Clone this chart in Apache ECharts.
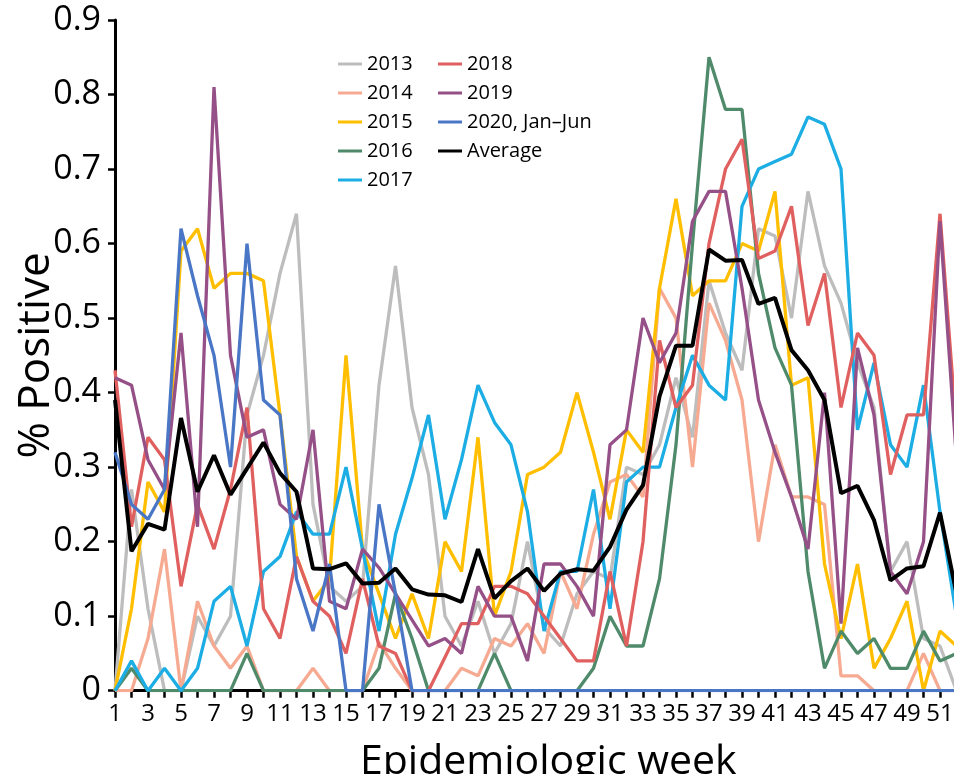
<!DOCTYPE html>
<html>
<head>
<meta charset="utf-8">
<script src="https://cdn.jsdelivr.net/npm/echarts@6/dist/echarts.min.js"></script>
<style>
html,body{margin:0;padding:0;background:#fff;}
#chart{width:954px;height:774px;}
</style>
</head>
<body>
<div id="chart"></div>
<script>
var weeks = [];
for (var i = 1; i <= 52; i++) weeks.push(String(i));

var yTicks = ['0','0.1','0.2','0.3','0.4','0.5','0.6','0.7','0.8','0.9'];

var s2013 = [0,0.27,0.11,0,0,0.10,0.06,0.10,0.37,0.45, 0.56,0.64,0.25,0.14,0.12,0.14,0.41,0.57,0.38,0.29, 0.10,0.06,0.12,0.05,0.09,0.20,0.085,0.06,0.13,0.16, 0.15,0.30,0.29,0.33,0.42,0.34,0.55,0.48,0.43,0.62, 0.61,0.50,0.67,0.57,0.52,0.44,0.38,0.16,0.20,0.07, 0.06,0];
var s2014 = [0,0,0.07,0.19,0,0.12,0.06,0.03,0.06,0, 0,0,0.03,0,0,0,0.065,0.03,0,0, 0,0.03,0.02,0.07,0.06,0.09,0.05,0.16,0.11,0.21, 0.28,0.29,0.26,0.54,0.50,0.30,0.52,0.47,0.39,0.20, 0.33,0.26,0.26,0.25,0.02,0.02,0,0,0,0.05, 0,0];
var s2015 = [0,0.11,0.28,0.24,0.59,0.62,0.54,0.56,0.56,0.55, 0.37,0.18,0.12,0.15,0.45,0.19,0.13,0.07,0.13,0.07, 0.20,0.16,0.34,0.10,0.16,0.29,0.30,0.32,0.40,0.32, 0.23,0.35,0.32,0.54,0.66,0.53,0.55,0.55,0.60,0.59, 0.67,0.41,0.42,0.17,0.07,0.17,0.03,0.07,0.12,0, 0.08,0.06];
var s2016 = [0,0.03,0,0,0,0,0,0,0.05,0, 0,0,0,0,0,0,0.03,0.13,0.07,0, 0,0,0,0.05,0,0,0,0,0,0.03, 0.10,0.06,0.06,0.15,0.33,0.60,0.85,0.78,0.78,0.56, 0.46,0.41,0.16,0.03,0.08,0.05,0.07,0.03,0.03,0.08, 0.04,0.05];
var s2017 = [0,0.04,0,0.03,0,0.03,0.12,0.14,0.06,0.16, 0.18,0.24,0.21,0.21,0.30,0.19,0.08,0.21,0.285,0.37, 0.23,0.31,0.41,0.36,0.33,0.24,0.08,0.16,0.16,0.27, 0.11,0.28,0.30,0.30,0.38,0.45,0.41,0.39,0.65,0.70, 0.71,0.72,0.77,0.76,0.70,0.35,0.44,0.33,0.30,0.41, 0.24,0.10];
var s2018 = [0.43,0.22,0.34,0.31,0.14,0.25,0.19,0.27,0.38,0.11, 0.07,0.18,0.12,0.10,0.05,0.15,0.06,0.05,0,0, 0.045,0.09,0.09,0.14,0.14,0.13,0.10,0.07,0.04,0.04, 0.16,0.06,0.20,0.47,0.38,0.41,0.60,0.70,0.74,0.58, 0.59,0.65,0.49,0.56,0.38,0.48,0.45,0.29,0.37,0.37, 0.64,0.35];
var s2019 = [0.42,0.41,0.31,0.27,0.48,0.22,0.81,0.45,0.34,0.35, 0.25,0.23,0.35,0.12,0.11,0.19,0.165,0.13,0.095,0.06, 0.07,0.05,0.14,0.10,0.10,0.04,0.17,0.17,0.14,0.10, 0.33,0.35,0.50,0.44,0.48,0.63,0.67,0.67,0.54,0.39, 0.32,0.26,0.19,0.40,0.09,0.46,0.37,0.16,0.13,0.20, 0.63,0.31];
var s2020 = [0.32,0.25,0.23,0.27,0.62,0.53,0.45,0.30,0.60,0.39, 0.37,0.15,0.08,0.17,0,0,0.25,0.13,0,0, 0,0,0,0,0,0,0,0,0,0, 0,0,0,0,0,0,0,0,0,0, 0,0,0,0,0,0,0,0,0,0, 0,0];
var sAvg = [0.39,0.187,0.224,0.216,0.366,0.267,0.316,0.263,0.298,0.333, 0.292,0.267,0.164,0.163,0.171,0.144,0.145,0.164,0.136,0.129, 0.128,0.119,0.19,0.124,0.147,0.164,0.134,0.157,0.163,0.161, 0.193,0.243,0.276,0.395,0.463,0.463,0.592,0.577,0.578,0.519, 0.527,0.457,0.43,0.39,0.265,0.275,0.229,0.148,0.164,0.167, 0.239,0.13];

var seriesNames = ['2013','2014','2015','2016','2017','2018','2019','2020, Jan\u2013Jun','Average'];
var seriesData = [s2013,s2014,s2015,s2016,s2017,s2018,s2019,s2020,sAvg];
var colors = ['#BDBDBD','#F7AA92','#FFBF00','#4F8A6B','#1BADE3','#E0605F','#955087','#4A76C6','#000000'];
var widths = [3.3,3.3,3.3,3.3,3.3,3.3,3.3,3.3,4];

var FONT = 'Open Sans';

var chart = echarts.init(document.getElementById('chart'));
var series = seriesNames.map(function (n, i) {
  return {
    name: n,
    type: 'line',
    data: seriesData[i],
    symbol: 'none',
    animation: false,
    lineStyle: { color: colors[i], width: widths[i] },
    itemStyle: { color: colors[i] },
    z: 2 + i * 0.01
  };
});

var legendBase = {
  orient: 'vertical',
  top: 49,
  icon: 'rect',
  itemWidth: 24,
  itemHeight: 3,
  itemGap: 9,
  textStyle: { fontFamily: FONT, fontSize: 20, color: '#000', lineHeight: 20, padding: [0, 0, 0, 0] },
  selectedMode: false
};

chart.setOption({
  backgroundColor: '#fff',
  textStyle: { fontFamily: FONT },
  grid: { left: 115, top: 20, width: 841.5, bottom: 83.3, containLabel: false, outerBoundsMode: 'none' },
  legend: [
    Object.assign({}, legendBase, { left: 333, data: seriesNames.slice(0, 5) }),
    Object.assign({}, legendBase, { left: 433, data: seriesNames.slice(5) })
  ],
  xAxis: {
    type: 'category',
    data: weeks,
    boundaryGap: false,
    name: 'Epidemiologic week',
    nameLocation: 'middle',
    nameGap: 51,
    nameTextStyle: { fontFamily: FONT, fontSize: 41, color: '#000', padding: [0, 0, 0, 25] },
    axisLine: { lineStyle: { color: '#000', width: 3 } },
    axisTick: { show: true, interval: 0, length: 7, lineStyle: { color: '#000', width: 2.5 } },
    axisLabel: { interval: 1, fontFamily: FONT, fontSize: 24, color: '#000', margin: 11 },
    splitLine: { show: false }
  },
  yAxis: {
    type: 'value',
    min: 0,
    max: 0.9,
    interval: 0.1,
    name: '% Positive',
    nameLocation: 'middle',
    nameRotate: 90,
    nameGap: 57,
    nameMoveOverlap: false,
    nameTextStyle: { fontFamily: FONT, fontSize: 44, color: '#000', padding: [0, 0, 0, 0] },
    axisLine: { show: true, lineStyle: { color: '#000', width: 3 } },
    axisTick: { show: true, length: 7, lineStyle: { color: '#000', width: 2.5 } },
    axisLabel: {
      fontFamily: FONT, fontSize: 34, color: '#000', margin: 14,
      formatter: function (v) { return yTicks[Math.round(v * 10)]; }
    },
    splitLine: { show: false }
  },
  series: series
});
</script>
</body>
</html>
